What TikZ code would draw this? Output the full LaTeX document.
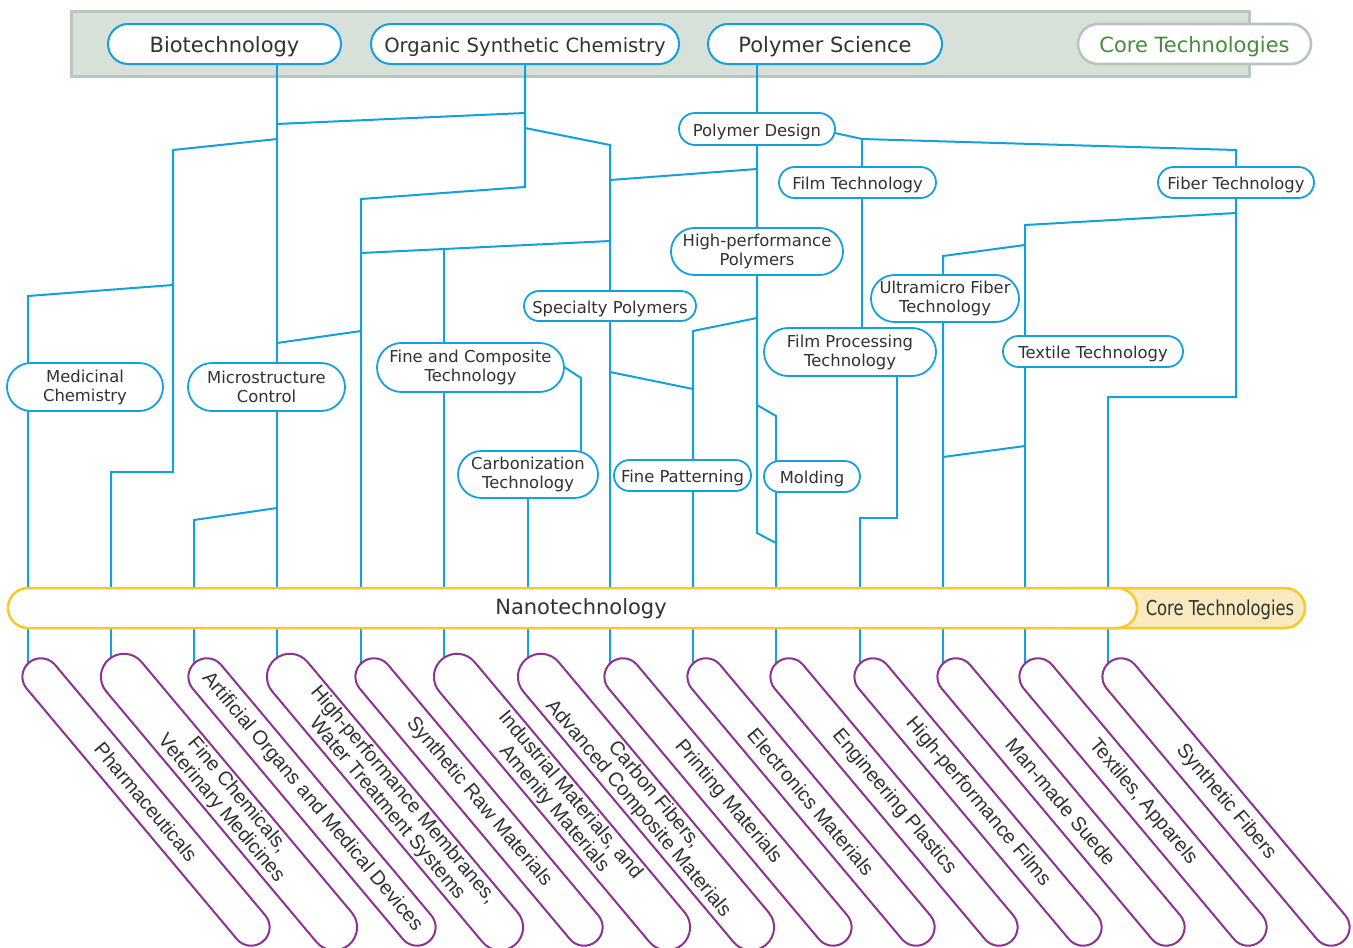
\documentclass[tikz,border=0pt]{standalone}
\usepackage{fontspec}
\setmainfont{DejaVu Sans}
\newfontfamily\pillfont{Liberation Sans}
\usetikzlibrary{shapes.misc}
\definecolor{cblue}{RGB}{20,160,220}
\definecolor{cpurple}{RGB}{140,50,145}
\definecolor{cyel}{RGB}{250,200,40}
\definecolor{cyfill}{RGB}{248,234,190}
\definecolor{bandfill}{RGB}{216,224,218}
\definecolor{bandline}{RGB}{185,200,190}
\definecolor{coreline}{RGB}{180,200,185}
\definecolor{coregreen}{RGB}{70,140,60}
\definecolor{ctext}{RGB}{50,50,50}
\pgfdeclarelayer{bandlayer}
\pgfdeclarelayer{linelayer}
\pgfsetlayers{bandlayer,linelayer,main}
\begin{document}
\begin{tikzpicture}[x=1pt,y=-1pt,
  tnode/.style={rectangle, draw=cblue, line width=2pt, fill=white, minimum height=40pt,
    rounded corners=20pt, inner sep=0pt, font=\fontsize{21}{24}\selectfont, text=ctext,
    text height=17pt, text depth=0pt},
  sn/.style n args={2}{rectangle, draw=cblue, line width=1.8pt, fill=white, inner sep=0pt,
    minimum width=#1pt, minimum height=#2pt, rounded corners=#2*0.5pt,
    font=\fontsize{16.4}{19}\selectfont, align=center, text=ctext},
  one/.style={text height=14.5pt, text depth=0pt},
  conn/.style={draw=cblue, line width=2pt},
  pill/.style={rectangle, draw=cpurple, line width=2pt, fill=white, rotate=-50,
    minimum width=364pt, minimum height=37pt, rounded corners=18.5pt, inner sep=0pt,
    font=\pillfont\fontsize{20}{21}\selectfont, align=center, text=ctext},
  pilltwo/.style={pill, minimum height=46pt, minimum width=373pt, rounded corners=23pt},
  bar/.style={rectangle, draw=cyel, line width=2.5pt, minimum height=40pt, rounded corners=20pt, inner sep=0pt}
]
\useasboundingbox (0,0) rectangle (1353,948);

% band behind the core disciplines
\begin{pgfonlayer}{bandlayer}
\node[rectangle, fill=bandfill, draw=bandline, line width=3pt, minimum width=1178pt,
  minimum height=65pt, inner sep=0pt] (band) at (660,43.5) {};
\end{pgfonlayer}

% top nodes
\node[tnode, minimum width=233pt] (bio) at (224.5,44) {Biotechnology};
\node[tnode, minimum width=308pt, font=\fontsize{19.6}{24}\selectfont] (osc) at (525,44) {Organic Synthetic Chemistry};
\node[tnode, minimum width=234pt] (poly) at (825,44) {Polymer Science};
\node[tnode, draw=coreline, line width=2.6pt, text=coregreen, minimum width=233pt] (coret) at (1194.5,44) {Core Technologies};

% second level nodes
\node[sn={156}{32}, one] (pdes) at (757,129) {Polymer Design};
\node[sn={157}{31}, one] (film) at (857.5,182.5) {Film Technology};
\node[sn={156}{31}, one] (fiber) at (1236,182.5) {Fiber Technology};
\node[sn={172}{47}] (hperf) at (757,251.5) {High-performance\\Polymers};
\node[sn={172}{30}, one] (spec) at (610,306) {Specialty Polymers};
\node[sn={148}{47}] (umf) at (945,298.5) {Ultramicro Fiber\\Technology};
\node[sn={172}{48}] (fproc) at (850,352) {Film Processing\\Technology};
\node[sn={180}{31}, one] (text) at (1093,351.5) {Textile Technology};
\node[sn={156}{48}] (med) at (85,387) {Medicinal\\Chemistry};
\node[sn={157}{48}] (micro) at (266.5,387) {Microstructure\\Control};
\node[sn={187}{49}] (fcomp) at (470.5,367.5) {Fine and Composite\\Technology};
\node[sn={140}{47}] (carb) at (528,474.5) {Carbonization\\Technology};
\node[sn={137}{31}, one] (fpat) at (682.5,475.5) {Fine Patterning};
\node[sn={96}{31}, one] (mold) at (812,476.5) {Molding};

% nanotechnology bar
\node[bar, fill=cyfill, minimum width=255pt] (coreb) at (1177.5,608) {};
\node[bar, fill=white, minimum width=1129pt] (nano) at (572.5,608) {};
\node[font=\fontsize{21}{24}\selectfont, text=ctext, inner sep=0pt] (nanotxt) at (581,609) {Nanotechnology};
\node[font=\fontsize{20.5}{24}\selectfont, text=ctext, inner sep=0pt] (coretxt) at (1220,610) {\scalebox{0.8}[1]{Core Technologies}};

% bar top coordinates
\foreach \i/\x in {1/28,2/111,3/194,4/277,5/361,6/444,7/528,8/610,9/693,10/776,11/860,12/943,13/1025,14/1108}
  \coordinate (b\i) at (\x,588);

% application pills
\node[pill] (p1) at (146,802) {Pharmaceuticals};
\node[pilltwo] (p2) at (229,802) {Fine Chemicals,\\Veterinary Medicines};
\node[pill] (p3) at (312,802) {Artificial Organs and Medical Devices};
\node[pilltwo] (p4) at (395,802) {High-performance Membranes,\\Water Treatment Systems};
\node[pill] (p5) at (479,802) {Synthetic Raw Materials};
\node[pilltwo] (p6) at (562,802) {Industrial Materials, and\\Amenity Materials};
\node[pilltwo] (p7) at (646,802) {Carbon Fibers,\\Advanced Composite Materials};
\node[pill] (p8) at (728,802) {Printing Materials};
\node[pill] (p9) at (811,802) {Electronics Materials};
\node[pill] (p10) at (894,802) {Engineering Plastics};
\node[pill] (p11) at (978,802) {High-performance Films};
\node[pill] (p12) at (1061,802) {Man-made Suede};
\node[pill] (p13) at (1143,802) {Textiles, Apparels};
\node[pill] (p14) at (1226,802) {Synthetic Fibers};

% connectors
\begin{pgfonlayer}{linelayer}
% Biotechnology
\draw[conn] (bio.south -| b4) -- (b4);
\draw[conn] (277,124) -- (525,113);
\draw[conn] (277,139) -- (173,150) -- (173,472) -- (111,472) -- (b2);
\draw[conn] (173,285) -- (28,296) -- (b1);
\draw[conn] (277,343) -- (361,331);
\draw[conn] (277,508) -- (194,520) -- (b3);
% Organic Synthetic Chemistry
\draw[conn] (osc.south) -- (525,187) -- (361,199) -- (b5);
\draw[conn] (525,128) -- (610,145) -- (b8);
\draw[conn] (610,180) -- (757,169);
\draw[conn] (610,241) -- (361,253);
\draw[conn] (444,249) -- (b6);
\draw[conn] (fcomp.east) -- (581,378) -- (581,451);
\draw[conn] (carb.south) -- (b7);
\draw[conn] (610,372) -- (693,389);
% Polymer Science
\draw[conn] (poly.south -| pdes.north) -- (757,533) -- (776,543);
\draw[conn] (757,318) -- (693,331) -- (b9);
\draw[conn] (757,405) -- (776,416) -- (b10);
\draw[conn] (835,133) -- (862,139) -- (1236,150) -- (1236,397) -- (1108,397) -- (b14);
\draw[conn] (862,139) -- (862,328);
\draw[conn] (897,374) -- (897,518) -- (860,518) -- (b11);
\draw[conn] (1236,213) -- (1025,225) -- (b13);
\draw[conn] (1025,245) -- (943,256) -- (b12);
\draw[conn] (943,457) -- (1025,446);
% below the bar
\foreach \i in {1,...,14}
  \draw[conn] (nano.south -| b\i) -- (b\i |- p\i.west) -- ++(0,8);
\end{pgfonlayer}
\end{tikzpicture}
\end{document}
